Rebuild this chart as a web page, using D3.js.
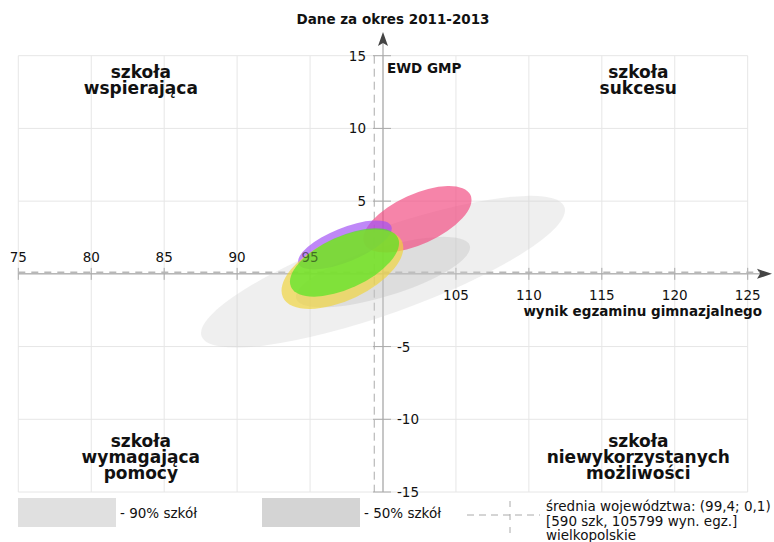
<!DOCTYPE html>
<html><head><meta charset="utf-8">
<script src="https://cdn.jsdelivr.net/npm/d3@7"></script>
<style>
html,body{margin:0;padding:0;background:#fff;}
svg{display:block;font-family:"DejaVu Sans",sans-serif;}
</style></head>
<body>
<svg id="chart" width="774" height="542"></svg>
<script>
// ---- data ----
const title = "Dane za okres 2011-2013";
const xTicks = [75, 80, 85, 90, 95, 100, 105, 110, 115, 120, 125];
const yTicks = [-15, -10, -5, 0, 5, 10, 15];
const xLabel = "wynik egzaminu gimnazjalnego";
const yLabel = "EWD GMP";
const meanPoint = [99.4, 0.1];
const meanText = ["średnia województwa: (99,4; 0,1)", "[590 szk, 105799 wyn. egz.]", "wielkopolskie"];
// school spread ellipses (90% and 50% of schools)
const spreadNames = ["- 90% szkół", "- 50% szkół"];
const spreadCx = [100.0, 100.0];
const spreadCy = [0.15, 0.12];
const spreadRx = [13.2, 6.22];
const spreadRy = [2.9, 1.67];
const spreadAngle = [19.6, 17];
// coloured group ellipses
const groupNames = ["A", "B", "C", "D"];
const groupCx = [102.36, 97.39, 97.22, 97.36];
const groupCy = [3.75, 1.99, 0.32, 0.78];
const groupRx = [4.0, 3.43, 4.51, 4.03];
const groupRy = [1.72, 1.17, 2.13, 1.80];
const groupAngle = [24.5, 22, 25.4, 24.6];
const groupColors = ["#f24a80", "#a050f5", "#f0d43c", "#4ee620"];
const quadrants = [
  {lines: ["szkoła", "wspierająca"], qx: 83.4, top: true},
  {lines: ["szkoła", "sukcesu"], qx: 117.5, top: true},
  {lines: ["szkoła", "wymagająca", "pomocy"], qx: 83.4, top: false},
  {lines: ["szkoła", "niewykorzystanych", "możliwości"], qx: 117.5, top: false}
];

// ---- scales ----
const x = d3.scaleLinear().domain([75, 125]).range([18.3, 747.7]);
const y = d3.scaleLinear().domain([-15, 15]).range([492, 55.7]);
const svg = d3.select("#chart");
const FS = 13.5;

// grid
const grid = svg.append("g").attr("stroke", "#e6e6e6").attr("stroke-width", 1);
grid.selectAll("line.v").data(xTicks).join("line").attr("class", "v")
  .attr("x1", d => x(d)).attr("x2", d => x(d)).attr("y1", y(15)).attr("y2", y(-15));
grid.selectAll("line.h").data(yTicks).join("line").attr("class", "h")
  .attr("y1", d => y(d)).attr("y2", d => y(d)).attr("x1", x(75)).attr("x2", x(125));

// axes lines
const axisCol = "#999";
svg.append("line").attr("x1", x(75)).attr("x2", 762).attr("y1", y(0)).attr("y2", y(0))
  .attr("stroke", axisCol).attr("stroke-width", 1);
svg.append("line").attr("x1", x(100)).attr("x2", x(100)).attr("y1", y(-15)).attr("y2", 40)
  .attr("stroke", axisCol).attr("stroke-width", 1);
// arrowheads
const ax = x(100), ay = y(0);
svg.append("path").attr("d", `M${ax},32 L${ax+5},46 L${ax},43 L${ax-5},46 Z`).attr("fill", "#444");
svg.append("path").attr("d", `M772,${ay} L757,${ay-5} L760,${ay} L757,${ay+5} Z`).attr("fill", "#444");

// ticks
svg.append("g").selectAll("line").data(xTicks.filter(d => d !== 100)).join("line")
  .attr("x1", d => x(d)).attr("x2", d => x(d)).attr("y1", ay - 6).attr("y2", ay + 6)
  .attr("stroke", "#aaa");
svg.append("g").selectAll("line").data(yTicks.filter(d => d !== 0)).join("line")
  .attr("y1", d => y(d)).attr("y2", d => y(d)).attr("x1", ax - 10).attr("x2", ax + 8)
  .attr("stroke", "#aaa");

// mean dashed lines
svg.append("line").attr("x1", x(75)).attr("x2", 760).attr("y1", y(meanPoint[1])).attr("y2", y(meanPoint[1]))
  .attr("stroke", "#b8b8b8").attr("stroke-width", 1.6).attr("stroke-dasharray", "7,6");
svg.append("line").attr("x1", x(meanPoint[0])).attr("x2", x(meanPoint[0])).attr("y1", y(15)).attr("y2", y(-15))
  .attr("stroke", "#aaa").attr("stroke-width", 1).attr("stroke-dasharray", "8,5");

// axis titles
svg.append("text").attr("x", 762).attr("y", ay + 42).attr("text-anchor", "end")
  .attr("font-size", FS).attr("font-weight", "bold").attr("fill", "#111").text(xLabel);
svg.append("text").attr("x", ax + 4).attr("y", y(15) + 17)
  .attr("font-size", FS).attr("font-weight", "bold").attr("fill", "#111").text(yLabel);
svg.append("text").attr("x", 393).attr("y", 24).attr("text-anchor", "middle")
  .attr("font-size", FS).attr("font-weight", "bold").attr("fill", "#111").text(title);

// quadrant labels
quadrants.forEach(q => {
  const t = svg.append("text").attr("text-anchor", "middle").attr("font-size", 17)
    .attr("font-weight", "bold").attr("fill", "#111");
  const y0 = q.top ? y(15) + 22 : y(-15) - 45;
  q.lines.forEach((l, i) => t.append("tspan").attr("x", x(q.qx)).attr("y", y0 + i * 16).text(l));
});

// spread ellipses
const spreadFill = ["#d0d0d0", "#bdbdbd"];
spreadNames.forEach((n, i) => {
  svg.append("ellipse")
    .attr("transform", `translate(${x(spreadCx[i])},${y(spreadCy[i])}) rotate(${-spreadAngle[i]})`)
    .attr("rx", x(spreadCx[i] + spreadRx[i]) - x(spreadCx[i]))
    .attr("ry", y(spreadCy[i]) - y(spreadCy[i] + spreadRy[i]))
    .attr("fill", spreadFill[i]).attr("fill-opacity", 0.34);
});
// group ellipses
groupNames.forEach((n, i) => {
  svg.append("ellipse")
    .attr("transform", `translate(${x(groupCx[i])},${y(groupCy[i])}) rotate(${-groupAngle[i]})`)
    .attr("rx", x(groupCx[i] + groupRx[i]) - x(groupCx[i]))
    .attr("ry", y(groupCy[i]) - y(groupCy[i] + groupRy[i]))
    .attr("fill", groupColors[i]).attr("fill-opacity", 0.68);
});

// tick labels (drawn above the ellipses so they stay readable)
svg.append("g").selectAll("text").data(xTicks.filter(d => d !== 100)).join("text")
  .attr("x", d => x(d)).attr("y", d => d < 100 ? ay - 12 : ay + 26)
  .attr("text-anchor", "middle").attr("font-size", FS).attr("fill", "#111")
  .attr("fill-opacity", d => d === 95 ? 0.55 : 1).text(d => d);
svg.append("g").selectAll("text").data(yTicks.filter(d => d !== 0)).join("text")
  .attr("x", d => d > 0 ? ax - 17 : ax + 14).attr("y", d => y(d) + 5)
  .attr("text-anchor", d => d > 0 ? "end" : "start").attr("font-size", FS).attr("fill", "#111").text(d => d);

// legend
const legFill = ["#e0e0e0", "#d4d4d4"];
const legX = [18, 262];
spreadNames.forEach((n, i) => {
  svg.append("rect").attr("x", legX[i]).attr("y", 498).attr("width", 98).attr("height", 29).attr("fill", legFill[i]);
  svg.append("text").attr("x", legX[i] + 102).attr("y", 518).attr("font-size", FS).attr("fill", "#111").text(n);
});
svg.append("line").attr("x1", 467).attr("x2", 540).attr("y1", 515).attr("y2", 515)
  .attr("stroke", "#aaa").attr("stroke-dasharray", "7,5");
svg.append("line").attr("x1", 510).attr("x2", 510).attr("y1", 501).attr("y2", 535)
  .attr("stroke", "#aaa").attr("stroke-dasharray", "6,7");
const mt = svg.append("text").attr("font-size", FS).attr("fill", "#111");
meanText.forEach((l, i) => mt.append("tspan").attr("x", 546).attr("y", 511 + i * 14.5).text(l));
</script>
</body></html>
